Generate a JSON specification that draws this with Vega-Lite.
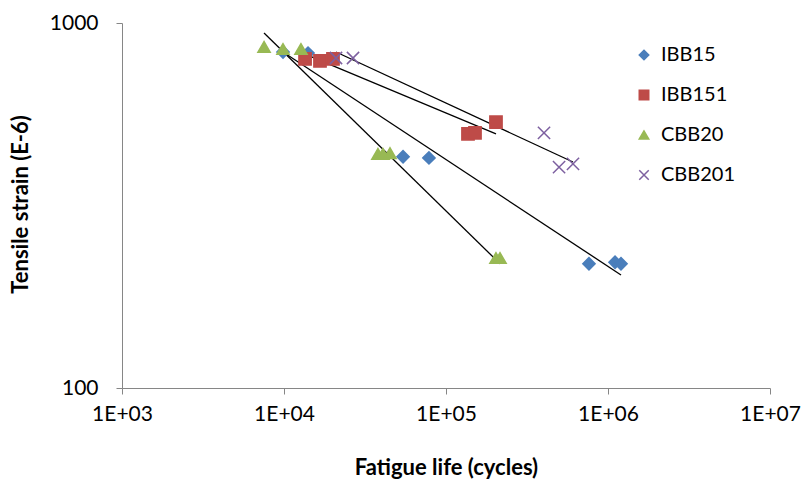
{
  "$schema": "https://vega.github.io/schema/vega-lite/v6.json",
  "width": 648,
  "height": 365,
  "autosize": {"type": "none"},
  "padding": {"left": 122, "top": 23, "right": 32, "bottom": 93},
  "background": "white",
  "config": {
    "view": {"stroke": null},
    "font": "Lato",
    "axis": {"grid": false, "domainColor": "#868686", "tickColor": "#868686", "labelColor": "#000000", "titleColor": "#000000", "labelFont": "Lato", "titleFont": "Lato"}
  },
  "datasets": {
    "points": [
      {"series": "IBB15", "cycles": 9860, "strain": 833},
      {"series": "IBB15", "cycles": 14070, "strain": 827},
      {"series": "IBB15", "cycles": 54300, "strain": 430},
      {"series": "IBB15", "cycles": 78500, "strain": 427},
      {"series": "IBB15", "cycles": 763000, "strain": 219},
      {"series": "IBB15", "cycles": 1105000, "strain": 221},
      {"series": "IBB15", "cycles": 1203000, "strain": 219},
      {"series": "IBB151", "cycles": 13490, "strain": 797},
      {"series": "IBB151", "cycles": 16680, "strain": 787},
      {"series": "IBB151", "cycles": 20060, "strain": 797},
      {"series": "IBB151", "cycles": 136700, "strain": 497},
      {"series": "IBB151", "cycles": 151000, "strain": 500},
      {"series": "IBB151", "cycles": 203500, "strain": 535},
      {"series": "CBB20", "cycles": 7530, "strain": 860},
      {"series": "CBB20", "cycles": 9860, "strain": 849},
      {"series": "CBB20", "cycles": 12730, "strain": 849},
      {"series": "CBB20", "cycles": 38000, "strain": 438},
      {"series": "CBB20", "cycles": 40800, "strain": 438},
      {"series": "CBB20", "cycles": 45100, "strain": 440},
      {"series": "CBB20", "cycles": 203500, "strain": 227},
      {"series": "CBB20", "cycles": 215500, "strain": 227},
      {"series": "CBB201", "cycles": 20940, "strain": 802},
      {"series": "CBB201", "cycles": 26670, "strain": 802},
      {"series": "CBB201", "cycles": 402700, "strain": 500},
      {"series": "CBB201", "cycles": 498800, "strain": 403},
      {"series": "CBB201", "cycles": 608000, "strain": 411}
    ],
    "trends": [
      {"series": "IBB15", "cycles": 9860, "strain": 833},
      {"series": "IBB15", "cycles": 1203000, "strain": 204},
      {"series": "IBB151", "cycles": 13490, "strain": 822},
      {"series": "IBB151", "cycles": 203500, "strain": 497},
      {"series": "CBB20", "cycles": 7530, "strain": 939},
      {"series": "CBB20", "cycles": 215500, "strain": 219},
      {"series": "CBB201", "cycles": 20940, "strain": 833},
      {"series": "CBB201", "cycles": 608000, "strain": 416}
    ]
  },
  "layer": [
    {
      "data": {"name": "trends"},
      "mark": {"type": "line", "color": "#000000", "strokeWidth": 1.3},
      "encoding": {
        "x": {"field": "cycles", "type": "quantitative"},
        "y": {"field": "strain", "type": "quantitative"},
        "detail": {"field": "series"}
      }
    },
    {
      "data": {"name": "points"},
      "mark": {"type": "point", "size": 150, "strokeWidth": 1.5, "opacity": 1},
      "encoding": {
        "x": {
          "field": "cycles", "type": "quantitative",
          "scale": {"type": "log", "domain": [1000, 10000000], "nice": false},
          "axis": {
            "title": "Fatigue life (cycles)",
            "values": [1000, 10000, 100000, 1000000, 10000000],
            "labelExpr": "'1E+0' + round(log(datum.value)/LN10)",
            "labelFlush": false, "labelOverlap": false,
            "labelFontSize": 21, "labelPadding": 9, "tickSize": 6,
            "titleFontSize": 22, "titleFontWeight": "bold",
            "titleX": 324, "titleY": 79, "titleBaseline": "middle", "titleAlign": "center"
          }
        },
        "y": {
          "field": "strain", "type": "quantitative",
          "scale": {"type": "log", "domain": [100, 1000], "nice": false},
          "axis": {
            "title": "Tensile strain (E-6)",
            "values": [100, 1000],
            "format": "d",
            "labelFlush": false, "labelOverlap": false,
            "labelFontSize": 21, "labelPadding": 18, "tickSize": 6,
            "titleFontSize": 22, "titleFontWeight": "bold",
            "titleX": -102, "titleY": 181, "titleBaseline": "middle", "titleAlign": "center", "titleAngle": -90
          }
        },
        "fill": {
          "field": "series", "type": "nominal",
          "scale": {"domain": ["IBB15", "IBB151", "CBB20", "CBB201"], "range": ["#4A7EBB", "#BE4B48", "#98B954", "#7D60A0"]},
          "legend": {
            "title": null, "orient": "none", "legendX": 512, "legendY": 22,
            "labelFontSize": 20, "labelFont": "Lato", "rowPadding": 20, "labelOffset": 7, "symbolSize": 90, "symbolStrokeWidth": 1.5
          }
        },
        "stroke": {
          "field": "series", "type": "nominal",
          "scale": {"domain": ["IBB15", "IBB151", "CBB20", "CBB201"], "range": ["#4A7EBB", "#BE4B48", "#98B954", "#7D60A0"]}
        },
        "shape": {
          "field": "series", "type": "nominal",
          "scale": {"domain": ["IBB15", "IBB151", "CBB20", "CBB201"], "range": ["diamond", "square", "triangle-up", "M-1,-1L1,1M-1,1L1,-1"]}
        }
      }
    }
  ]
}
